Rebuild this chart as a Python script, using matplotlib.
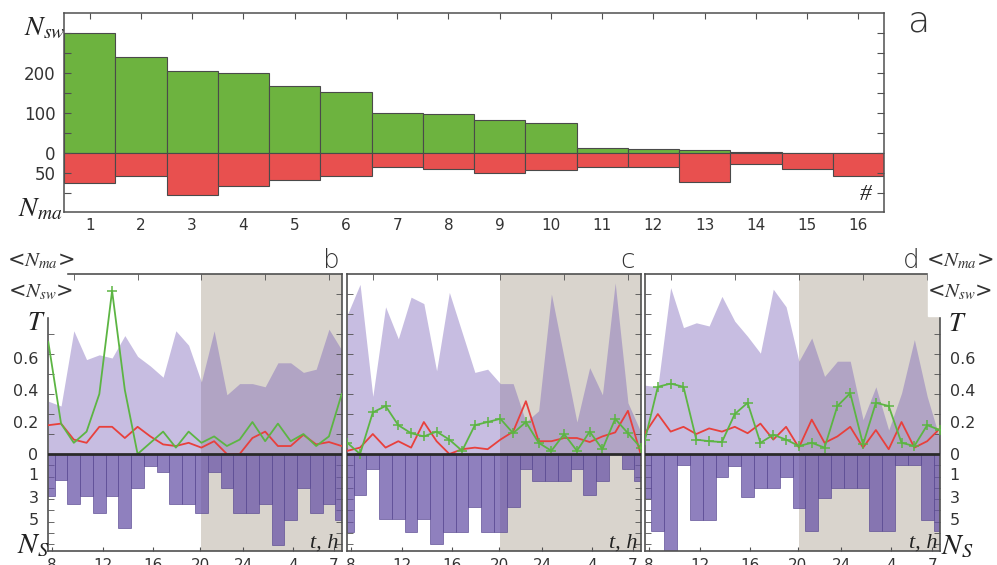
import numpy as np
import matplotlib.pyplot as plt
from matplotlib.patches import Rectangle

plt.rcParams['font.family'] = 'DejaVu Sans'
plt.rcParams['mathtext.fontset'] = 'stix'

# ---- panel a: counts per station ----
station = np.arange(1, 17)
n_sw = [300, 238, 203, 198, 167, 152, 100, 97, 82, 75, 12, 10, 7, 2, 0, 0]
n_ma = [76, 58, 105, 82, 68, 57, 36, 40, 50, 42, 36, 35, 74, 28, 40, 57]

# ---- panels b, c, d: hourly series (8h .. 7h next day) ----
hours = np.arange(8, 32)
hour_ticks = [8.3, 12.3, 16.2, 19.9, 23.3, 27.2, 30.4]
hour_labels = ['8', '12', '16', '20', '24', '4', '7']

b_area = [0.33, 0.30, 0.77, 0.59, 0.62, 0.60, 0.74, 0.61, 0.55, 0.48, 0.77, 0.68,
          0.45, 0.77, 0.37, 0.44, 0.44, 0.42, 0.57, 0.57, 0.51, 0.53, 0.78, 0.65]
b_green = [0.70, 0.19, 0.07, 0.14, 0.375, 1.02, 0.40, 0.0, 0.07, 0.14, 0.04, 0.14,
           0.07, 0.11, 0.05, 0.09, 0.20, 0.08, 0.19, 0.08, 0.125, 0.05, 0.11, 0.375]
b_red = [0.18, 0.19, 0.09, 0.07, 0.17, 0.17, 0.10, 0.17, 0.11, 0.06, 0.05, 0.07,
         0.04, 0.08, 0.0, 0.0, 0.10, 0.14, 0.05, 0.05, 0.12, 0.06, 0.075, 0.05]
b_ns = [3.7, 2.3, 4.4, 3.7, 5.2, 3.7, 6.6, 3.0, 1.1, 1.6, 4.4, 4.4,
        5.2, 1.6, 3.0, 5.2, 5.2, 4.4, 8.1, 5.9, 3.0, 5.2, 4.4, 5.9]

c_area = [0.87, 1.06, 0.36, 0.92, 0.72, 0.98, 0.94, 0.52, 1.01, 0.76, 0.51, 0.53,
          0.44, 0.44, 0.20, 0.27, 1.00, 0.60, 0.20, 0.54, 0.37, 1.07, 0.32, 0.14]
c_green = [0.07, 0.0, 0.26, 0.30, 0.18, 0.13, 0.11, 0.14, 0.09, 0.02, 0.18, 0.20,
           0.22, 0.13, 0.20, 0.07, 0.02, 0.125, 0.02, 0.14, 0.03, 0.22, 0.13, 0.04]
c_red = [0.02, 0.04, 0.125, 0.04, 0.08, 0.04, 0.20, 0.08, 0.0, 0.03, 0.04, 0.03,
         0.09, 0.14, 0.33, 0.08, 0.08, 0.10, 0.10, 0.075, 0.11, 0.135, 0.27, 0.0]
c_ns = [6.9, 3.6, 1.3, 5.8, 5.8, 6.9, 5.8, 8.0, 6.9, 6.9, 4.7, 6.9,
        6.9, 4.7, 1.3, 2.4, 2.4, 2.4, 1.3, 3.6, 2.4, 0.0, 1.3, 2.4]

d_area = [0.43, 0.42, 1.04, 0.79, 0.82, 0.80, 0.985, 0.83, 0.735, 0.63, 1.03, 0.92,
          0.58, 0.725, 0.485, 0.58, 0.58, 0.215, 0.42, 0.15, 0.38, 0.715, 0.36, 0.09]
d_green = [0.09, 0.42, 0.44, 0.42, 0.09, 0.08, 0.075, 0.25, 0.32, 0.07, 0.12, 0.09,
           0.05, 0.07, 0.04, 0.30, 0.38, 0.06, 0.32, 0.30, 0.07, 0.05, 0.18, 0.15]
d_red = [0.13, 0.25, 0.14, 0.17, 0.125, 0.16, 0.14, 0.17, 0.13, 0.19, 0.09, 0.17,
         0.04, 0.215, 0.07, 0.11, 0.17, 0.04, 0.15, 0.03, 0.20, 0.04, 0.08, 0.16]
d_ns = [3.9, 6.8, 8.7, 1.0, 5.9, 5.9, 2.0, 1.1, 3.8, 3.0, 3.0, 2.0,
        4.8, 6.8, 3.9, 3.0, 3.0, 3.0, 6.8, 6.8, 1.0, 1.0, 5.9, 6.8]

W, H = 997, 565
NS_SCALE = 11.25 / 160  # one N_S unit in T units


def box(l, t, r, b):
    return [l / W, 1 - b / H, (r - l) / W, (b - t) / H]


def fx(x):
    return x / W


def fy(y):
    return 1 - y / H


fig = plt.figure(figsize=(W / 100, H / 100), dpi=100)

spine_col = '#505050'

# ================= panel a =================
ax = fig.add_axes(box(64, 13, 884, 212))
ax.bar(station, n_sw, width=1, color='#6db33f', edgecolor='#4a4a4a', linewidth=0.8)
ax.bar(station, -np.array(n_ma), width=1, color='#e8504f', edgecolor='#4a4a4a', linewidth=0.8)
ax.set_xlim(0.5, 16.5)
ax.set_ylim(-148, 349)
ax.set_xticks(station)
ax.set_xticklabels([str(s) for s in station], fontsize=11, color='#333333')
ax.tick_params(axis='x', direction='in', top=True, bottom=False, length=4,
               color=spine_col, pad=4)
ax.set_yticks([-100, -50, 0, 50, 100, 150, 200, 250, 300])
ax.set_yticklabels(['', '50', '0', '', '100', '', '200', '', ''], fontsize=12, color='#333333')
ax.tick_params(axis='y', direction='in', left=True, right=True, length=5,
               color=spine_col, pad=6)
for s in ax.spines.values():
    s.set_color(spine_col)
    s.set_linewidth(1.1)

fig.text(fx(45), fy(27), r'$N_{sw}$', fontsize=20, ha='center', va='center', color='#222222')
fig.text(fx(40), fy(208), r'$N_{ma}$', fontsize=20, ha='center', va='center', color='#222222')
fig.text(fx(919), fy(22), 'a', fontsize=26, ha='center', va='center', color='#333333',
         fontweight='light')
fig.text(fx(866), fy(195), '#', fontsize=17, ha='center', va='center', color='#222222',
         family='Liberation Serif', style='italic')

# ================= panels b, c, d =================
panels = [
    dict(l=48.3, r=341.7, area=b_area, green=b_green, red=b_red, ns=b_ns,
         side='left', letter='b', lx=331, peak_only=True),
    dict(l=347.3, r=640.7, area=c_area, green=c_green, red=c_red, ns=c_ns,
         side=None, letter='c', lx=628, peak_only=False),
    dict(l=645, r=940, area=d_area, green=d_green, red=d_red, ns=d_ns,
         side='right', letter='d', lx=911, peak_only=False),
]

ns_label_pos = [1.8, 3.8, 5.8]

for p in panels:
    ax = fig.add_axes(box(p['l'], 273.5, p['r'], 551))
    ax.axvspan(20, 31, color='#d9d4cd', lw=0, zorder=0)
    ax.fill_between(hours, 0, p['area'], color='#7a62b8', alpha=0.42, lw=0, zorder=1)
    ax.bar(hours, -np.array(p['ns']) * NS_SCALE, width=1, color='#6a55a8', alpha=0.75,
           edgecolor='#584890', linewidth=0.6, zorder=2)
    ax.plot(hours, p['red'], color='#e8403c', lw=1.3, zorder=3)
    if p['peak_only']:
        mev = [int(np.argmax(p['green']))]
    else:
        mev = None
    ax.plot(hours, p['green'], color='#5cb543', lw=1.3, marker='+', ms=6.5, mew=1.1,
            markevery=mev, zorder=4)
    ax.axhline(0, color='#2a2a2a', lw=2, zorder=5)
    ax.set_xlim(8, 31)
    ax.set_ylim(-0.606, 1.128)

    ax.set_xticks(hour_ticks)
    ax.set_xticklabels(hour_labels, fontsize=11, color='#333333')
    ax.tick_params(axis='x', which='major', direction='in', length=3, pad=5, color=spine_col)
    ax.set_xticks([10, 15, 20, 25, 30], minor=True)
    ax.tick_params(axis='x', which='minor', direction='in', top=True, bottom=False,
                   length=4, color=spine_col)

    minor_y = [0.125 * k for k in range(1, 9)] + [-NS_SCALE * k for k in range(1, 9)]
    ax.set_yticks(minor_y, minor=True)
    ax.tick_params(axis='y', which='minor', direction='in', left=True, right=True,
                   length=4, color=spine_col)
    ax.set_yticks([0, 0.2, 0.4, 0.6] + [-NS_SCALE * v for v in ns_label_pos])
    ax.set_yticklabels(['0', '0.2', '0.4', '0.6', '1', '3', '5'], fontsize=11.5,
                       color='#333333')
    ax.tick_params(axis='y', which='major', length=0, left=False, right=False,
                   labelleft=p['side'] == 'left', labelright=p['side'] == 'right', pad=7)
    for s in ax.spines.values():
        s.set_color(spine_col)
        s.set_linewidth(1.2)

    fig.text(fx(p['r'] - 3), fy(548), 't, h', fontsize=16, ha='right', va='baseline',
             family='Liberation Serif', style='italic', color='#222222')
    fig.text(fx(p['lx']), fy(260), p['letter'], fontsize=19, ha='center', va='center',
             color='#333333', fontweight='light')

# white boxes behind the axis titles of the lower row
fig.add_artist(Rectangle((fx(10), fy(316)), fx(66) - fx(10), fy(245) - fy(316),
                         transform=fig.transFigure, color='white', zorder=5))
fig.add_artist(Rectangle((fx(928), fy(316)), fx(995) - fx(928), fy(245) - fy(316),
                         transform=fig.transFigure, color='white', zorder=5))

for xc in [41, 960]:
    fig.text(fx(xc), fy(261), r'<$N_{ma}$>', fontsize=15, ha='center', va='center',
             color='#333333', zorder=6)
    fig.text(fx(xc), fy(292), r'<$N_{sw}$>', fontsize=15, ha='center', va='center',
             color='#333333', zorder=6)
fig.text(fx(36), fy(323), r'$T$', fontsize=19, ha='center', va='center', color='#222222', zorder=6)
fig.text(fx(957), fy(324), r'$T$', fontsize=19, ha='center', va='center', color='#222222', zorder=6)
fig.text(fx(33), fy(545), r'$N_S$', fontsize=21, ha='center', va='center', color='#222222')
fig.text(fx(957), fy(546), r'$N_S$', fontsize=21, ha='center', va='center', color='#222222')

fig.savefig('out.png', dpi=100)
